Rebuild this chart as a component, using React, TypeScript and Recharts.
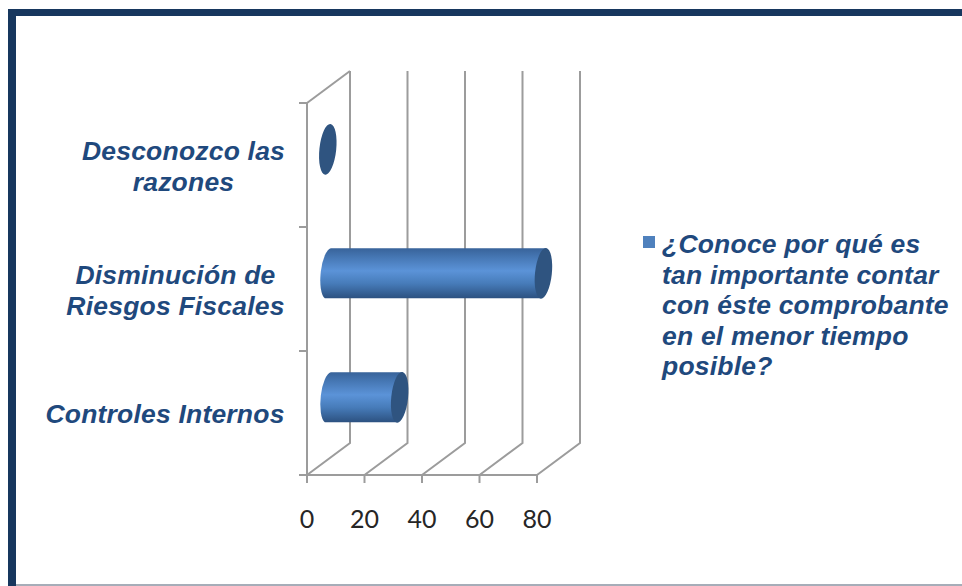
import React from "react";
import { BarChart, Bar, XAxis, YAxis, CartesianGrid, Legend } from "recharts";

const categories = ["Desconozco las razones", "Disminución de Riesgos Fiscales", "Controles Internos"];
const categoryLines = [["Desconozco las", "razones"], ["Disminución de", "Riesgos Fiscales"], ["Controles Internos"]];
const legendLines = ["¿Conoce por qué es", "tan importante contar", "con éste comprobante", "en el menor tiempo", "posible?"];
const values = [0, 75, 25];
const valueTicks = [0, 20, 40, 60, 80];
const seriesName = legendLines.join(" ");

const rows = categories.map((name, i) => ({ name, value: values[i] }));

const NAVY = "#17375e";
const TEXT = "#1f497d";
const WALL = "#9c9c9c";
const DEPTH_X = 43;
const DEPTH_Y = 32;
const LABEL_FONT = "'Liberation Sans', Arial, sans-serif";
const labelCenters = [183.5, 175.5, 165];

// Oblique wall line: floor diagonal plus the upright on the back plane.
const WallLine = (p: any) => {
  const { x1, y1, y2, index } = p;
  const bx = x1 + DEPTH_X;
  return (
    <g key={`wall-${index}`} fill="none" stroke={WALL} strokeWidth={2}>
      <polyline points={`${x1},${y2} ${bx},${y2 - DEPTH_Y} ${bx},${y1 - DEPTH_Y}`} />
      {index === 0 && <line x1={x1} y1={y1} x2={bx} y2={y1 - DEPTH_Y} />}
    </g>
  );
};

// Horizontal cylinder set halfway into the depth of the plot.
const Cylinder = (p: any) => {
  const { x, y, width, height } = p;
  const x0 = x + DEPTH_X / 2 - 0.7;
  const x1 = x0 + width;
  const cy = y + height / 2 - DEPTH_Y / 2 + 0.3;
  const ry = height / 2;
  const rx = 8.4;
  const lean = 3;
  const rot = 6;
  return (
    <g>
      {width > 0 && (
        <path
          d={`M${x0 + lean},${cy - ry} L${x1 + lean},${cy - ry} L${x1 - lean},${cy + ry} L${x0 - lean},${cy + ry} A${rx},${ry + 0.5} ${rot} 0 1 ${x0 + lean},${cy - ry} Z`}
          fill="url(#cylinderBody)"
        />
      )}
      <ellipse cx={x1} cy={cy} rx={rx} ry={ry + 0.5} fill="#2f5480" transform={`rotate(${rot} ${x1} ${cy})`} />
    </g>
  );
};

const CategoryTick = (p: any) => {
  const { y, index } = p;
  const lines = categoryLines[index];
  const cx = labelCenters[index];
  const pitch = 31;
  const first = y + 10 - ((lines.length - 1) * pitch) / 2;
  const step = 62;
  const markX = 307;
  return (
    <g>
      <g stroke={WALL} strokeWidth={2}>
        <line x1={markX - 8} x2={markX} y1={y - step} y2={y - step} />
        <line x1={markX - 8} x2={markX} y1={y + step} y2={y + step} />
      </g>
      <text
        x={cx}
        y={first}
        textAnchor="middle"
        fill={TEXT}
        fontFamily={LABEL_FONT}
        fontSize={26.5}
        letterSpacing={0.2}
        fontWeight="bold"
        fontStyle="italic"
      >
        {lines.map((l, i) => (
          <tspan key={l} x={cx} y={first + i * pitch}>
            {l}
          </tspan>
        ))}
      </text>
    </g>
  );
};

const SeriesLegend = () => (
  <div style={{ position: "relative", width: 319, paddingLeft: 19, boxSizing: "border-box" }}>
    <span style={{ position: "absolute", left: 0, top: 7, width: 12, height: 12, background: "#4f81bd" }} />
    <div
      style={{
        color: TEXT,
        fontFamily: LABEL_FONT,
        fontSize: 26.5,
        letterSpacing: 0.2,
        fontWeight: "bold",
        fontStyle: "italic",
        lineHeight: "30.5px",
      }}
    >
      {legendLines.map((l) => (
        <div key={l}>{l}</div>
      ))}
    </div>
  </div>
);

export default function App() {
  return (
    <div style={{ position: "absolute", left: 0, top: 0, width: 962, height: 586, overflow: "hidden", background: "#fff" }}>
      <div style={{ position: "absolute", left: 8, top: 9, right: 0, height: 7, background: NAVY }} />
      <div style={{ position: "absolute", left: 8, top: 9, bottom: 0, width: 8, background: NAVY }} />
      <div style={{ position: "absolute", left: 16, right: 0, bottom: 0, height: 2, background: "#a6adb8" }} />
      <div style={{ position: "absolute", left: 0, top: 0 }}>
        <BarChart
          width={962}
          height={586}
          data={rows}
          layout="vertical"
          margin={{ top: 103, left: 207, right: 425, bottom: 81 }}
        >
          <defs>
            <linearGradient id="cylinderBody" x1="0" y1="0" x2="0" y2="1">
              <stop offset="0" stopColor="#38639a" />
              <stop offset="0.18" stopColor="#4677b4" />
              <stop offset="0.45" stopColor="#5b93d8" />
              <stop offset="0.7" stopColor="#477cba" />
              <stop offset="1" stopColor="#2c5180" />
            </linearGradient>
          </defs>
          <CartesianGrid horizontal={false} vertical={WallLine} stroke={WALL} />
          <XAxis
            type="number"
            domain={[0, 80]}
            ticks={valueTicks}
            height={30}
            axisLine={{ stroke: WALL, strokeWidth: 2 }}
            tickLine={{ stroke: WALL, strokeWidth: 2 }}
            tickSize={8}
            tickMargin={27}
            tick={{ fill: "#262626", fontFamily: "Lato, sans-serif", fontSize: 25 }}
          />
          <YAxis
            type="category"
            dataKey="name"
            width={100}
            interval={0}
            axisLine={{ stroke: WALL, strokeWidth: 2 }}
            tickLine={false}
            tick={CategoryTick}
          />
          <Legend
            layout="vertical"
            align="center"
            verticalAlign="middle"
            content={SeriesLegend}
            wrapperStyle={{ left: 643, top: 229, width: 319 }}
          />
          <Bar dataKey="value" name={seriesName} fill="#4f81bd" barSize={50} shape={Cylinder} isAnimationActive={false} />
        </BarChart>
      </div>
    </div>
  );
}
